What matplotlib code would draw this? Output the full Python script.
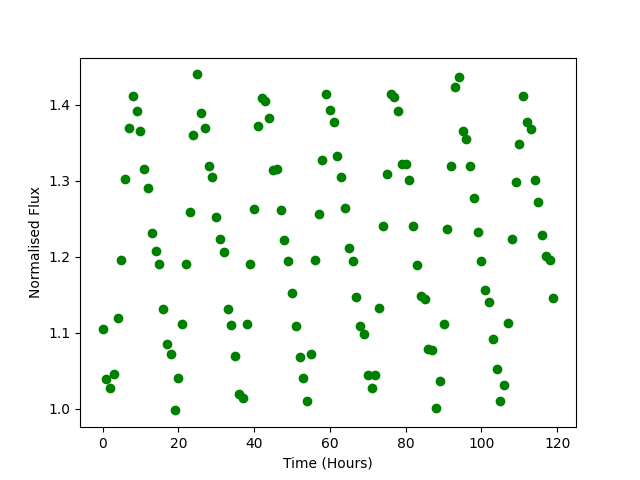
import numpy as np
import matplotlib
matplotlib.use("Agg")
import matplotlib.pyplot as plt

hours = np.arange(120)
flux = [
    1.105, 1.039, 1.027, 1.046, 1.120, 1.196, 1.302, 1.369, 1.411, 1.392,
    1.365, 1.316, 1.290, 1.232, 1.208, 1.190, 1.131, 1.086, 1.072, 0.998,
    1.040, 1.111, 1.191, 1.259, 1.360, 1.440, 1.389, 1.370, 1.319, 1.305,
    1.253, 1.224, 1.206, 1.132, 1.110, 1.070, 1.020, 1.014, 1.112, 1.190,
    1.263, 1.372, 1.409, 1.405, 1.382, 1.314, 1.315, 1.262, 1.222, 1.194,
    1.153, 1.109, 1.068, 1.041, 1.011, 1.072, 1.196, 1.257, 1.327, 1.414,
    1.393, 1.377, 1.333, 1.305, 1.264, 1.212, 1.194, 1.147, 1.109, 1.098,
    1.044, 1.027, 1.044, 1.133, 1.240, 1.309, 1.414, 1.410, 1.392, 1.322,
    1.322, 1.301, 1.241, 1.189, 1.148, 1.145, 1.079, 1.077, 1.001, 1.037,
    1.111, 1.237, 1.319, 1.423, 1.436, 1.365, 1.355, 1.320, 1.277, 1.233,
    1.195, 1.156, 1.140, 1.092, 1.053, 1.010, 1.031, 1.113, 1.223, 1.299,
    1.348, 1.411, 1.377, 1.368, 1.301, 1.272, 1.229, 1.201, 1.196, 1.146,
]

plt.figure(figsize=(6.4, 4.8))
plt.plot(hours, flux, "o", color="green")
plt.xlabel("Time (Hours)")
plt.ylabel("Normalised Flux")
plt.savefig("out.png", dpi=100)
plt.close()
